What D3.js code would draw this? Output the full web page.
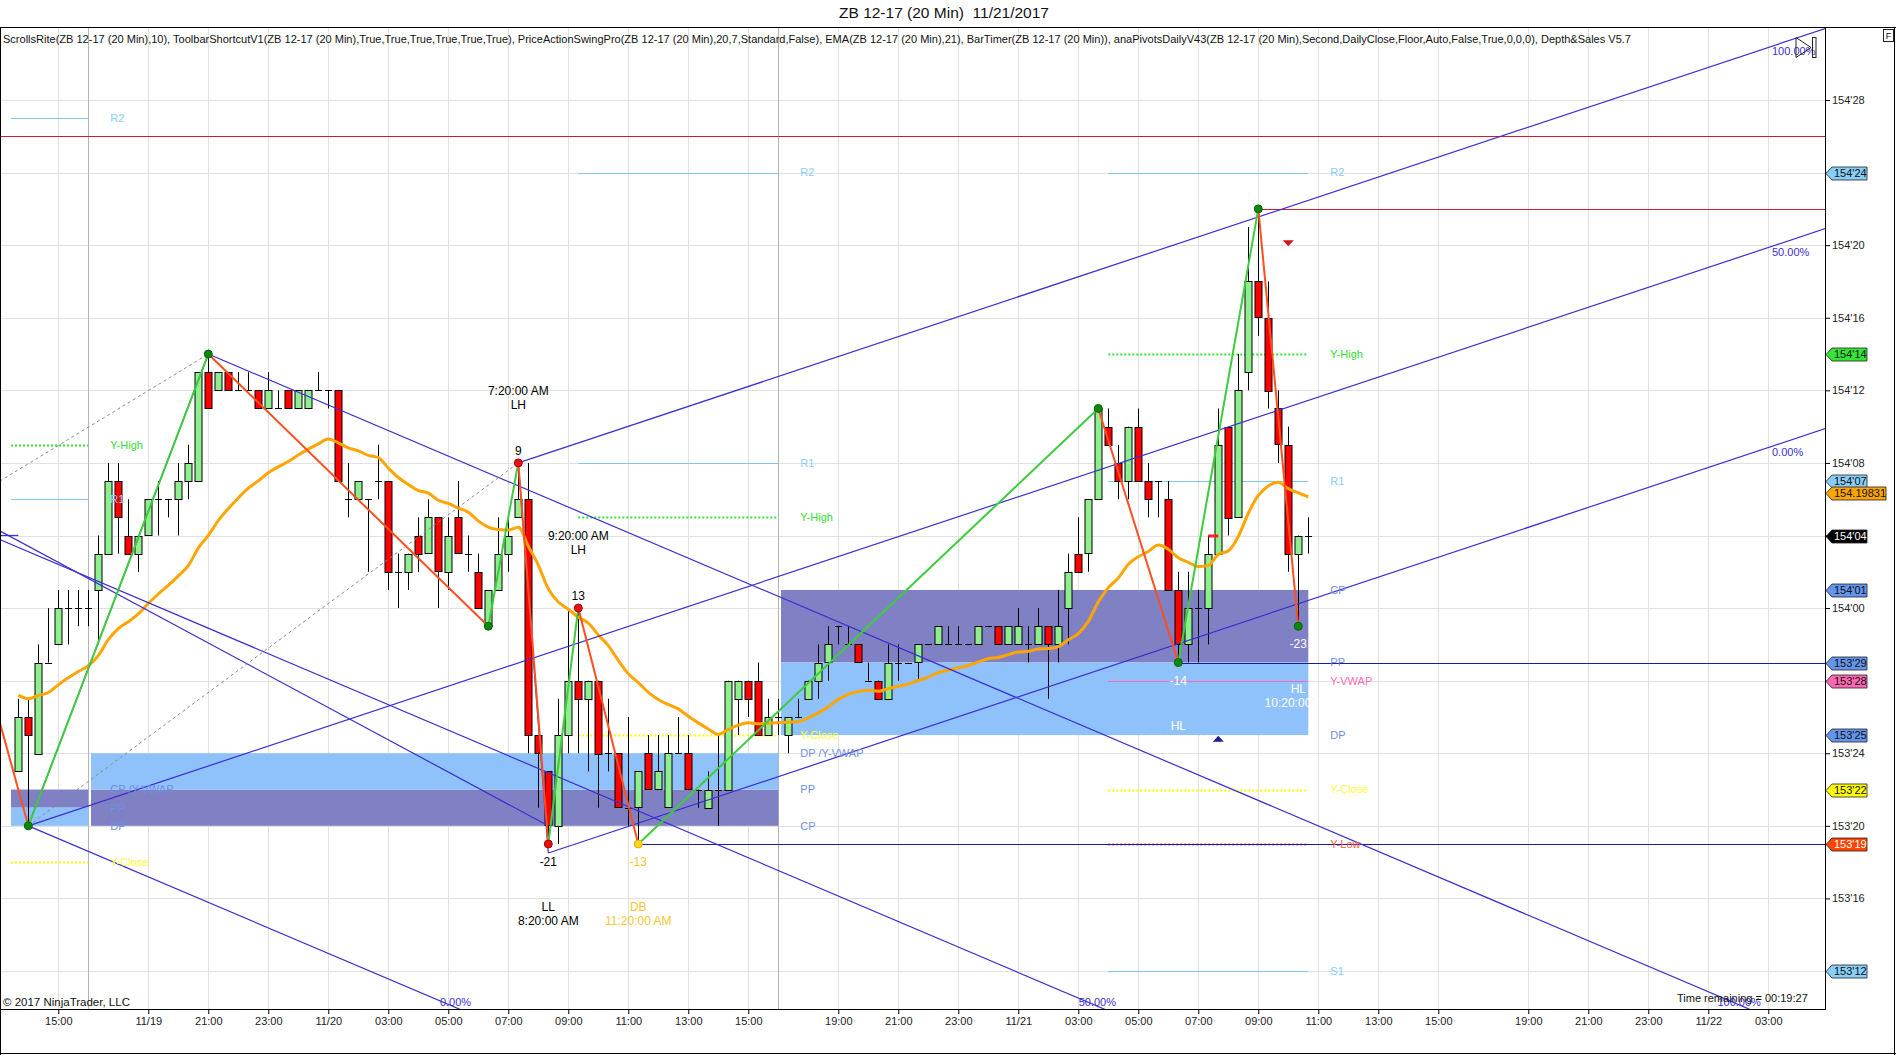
<!DOCTYPE html>
<html>
<head>
<meta charset="utf-8">
<script src="https://cdn.jsdelivr.net/npm/d3@7"></script>
<style>
  body { margin: 0; background: #fff; }
  svg text { font-family: "Liberation Sans", Arial, sans-serif; }
</style>
</head>
<body>
<div id="chart"></div>
<script>
// prices are in 1/32 ticks : 154'04 = 154*32 + 4
var opens = [4919,4922,4920,4925,4926,4928,4928,4928,4929,4931,
  4935,4932,4931,4932,4934,4934,4934,4935,4935,4941,
  4940,4941,4940,4940,4940,4939,4939,4940,4939,4939,
  4940,4940,4940,4934,4934,4934,4935,4935,4930,4930,
  4932,4931,4933,4930,4933,4931,4930,4927,4929,4931,
  4933,4934,4921,4919,4916,4921,4924,4923,4924,4920,
  4920,4917,4917,4920,4918,4917,4920,4920,4918,4917,
  4918,4918,4923,4924,4924,4921,4922,4921,4922,4923,
  4924,4925,4927,4926,4926,4924,4924,4923,4925,4925,
  4925,4926,4926,4926,4926,4926,4926,4927,4927,4926,
  4926,4926,4926,4927,4926,4928,4931,4931,4934,4938,
  4936,4935,4938,4935,4935,4934,4929,4926,4928,4928,
  4931,4938,4933,4941,4946,4944,4939,4937,4931,4932];
var highs = [4923,4923,4926,4928,4929,4929,4929,4929,4932,4936,
  4936,4934,4932,4934,4935,4934,4936,4937,4941,4942,
  4941,4941,4941,4941,4940,4941,4940,4940,4940,4940,
  4941,4940,4940,4936,4935,4934,4937,4935,4931,4931,
  4933,4934,4933,4933,4935,4932,4931,4929,4933,4933,
  4936,4936,4921,4919,4923,4928,4928,4924,4924,4923,
  4920,4922,4919,4921,4921,4921,4922,4921,4918,4919,
  4921,4924,4924,4924,4925,4923,4923,4922,4923,4924,
  4926,4927,4927,4927,4926,4925,4924,4926,4926,4925,
  4926,4926,4927,4927,4927,4926,4927,4927,4927,4927,
  4928,4927,4928,4927,4929,4931,4933,4934,4939,4939,
  4937,4938,4939,4936,4935,4935,4930,4930,4929,4932,
  4939,4938,4942,4949,4950,4946,4940,4938,4932,4933];
var lows = [4919,4916,4920,4925,4926,4926,4927,4927,4926,4931,
  4931,4931,4930,4932,4932,4933,4932,4934,4935,4939,
  4940,4940,4940,4940,4939,4939,4939,4939,4939,4939,
  4940,4939,4935,4933,4934,4930,4934,4929,4928,4929,
  4930,4931,4928,4929,4931,4930,4928,4927,4929,4930,
  4933,4920,4917,4915,4915,4920,4920,4919,4917,4919,
  4917,4916,4915,4918,4918,4917,4920,4918,4917,4917,
  4916,4918,4921,4922,4921,4921,4921,4920,4922,4923,
  4923,4924,4926,4926,4925,4924,4923,4923,4924,4925,
  4924,4926,4926,4926,4926,4926,4926,4927,4926,4926,
  4926,4925,4926,4923,4925,4926,4930,4930,4934,4937,
  4934,4934,4935,4933,4933,4929,4925,4925,4925,4926,
  4931,4932,4933,4940,4943,4939,4936,4930,4927,4931];
var closes = [4922,4921,4925,4925,4928,4928,4928,4928,4931,4935,
  4933,4931,4932,4934,4934,4934,4935,4936,4941,4939,
  4941,4940,4940,4940,4939,4940,4939,4939,4940,4940,
  4940,4940,4935,4934,4935,4934,4935,4930,4930,4931,
  4931,4933,4930,4932,4931,4931,4928,4929,4931,4932,
  4934,4921,4920,4916,4921,4924,4923,4924,4920,4920,
  4917,4917,4919,4918,4919,4920,4920,4918,4918,4918,
  4918,4924,4924,4923,4921,4922,4922,4922,4922,4924,
  4925,4926,4927,4926,4925,4924,4923,4925,4925,4925,
  4926,4926,4927,4926,4926,4926,4927,4927,4926,4927,
  4927,4926,4927,4926,4927,4930,4930,4934,4939,4937,
  4935,4938,4935,4934,4935,4929,4926,4928,4928,4931,
  4937,4933,4940,4946,4944,4940,4937,4931,4932,4932];

var emaPeriod = 21;
var emaSeed = 4923.2;          // EMA value read at the first visible bar
var emaLastText = "154.19831"; // EMA value printed on the price axis

// PriceActionSwingPro swing points
var swingBars   = [-2, 1, 19, 47, 50, 53, 56, 62, 108, 116, 124, 128];
var swingPrices = [4922, 4916, 4942, 4927, 4936, 4915, 4928, 4915, 4939, 4925, 4950, 4927];
var swingDots   = ["", "green", "green", "green", "red", "red", "red", "gold", "green", "green", "green", "green"];
var labelBars   = [50, 56, 53, 62, 116, 128];
var labelTypes  = ["LH", "LH", "LL", "DB", "HL", "HL"];
var labelColors = ["#000", "#000", "#000", "#f7c531", "#fff", "#fff"];

// daily pivots (three sessions)
var sessionFirst = [0, 8, 77];
var sessionLast  = [7, 76, 129];
var leftNames  = ["R2", "Y-High", "R1", "CP /Y-VWAP", "PP", "DP", "Y-Close"];
var leftLevels = [4955, 4937, 4934, 4918, 4917, 4916, 4914];
var midNames   = ["R2", "R1", "Y-High", "Y-Close", "DP /Y-VWAP", "PP", "CP"];
var midLevels  = [4952, 4936, 4933, 4921, 4920, 4918, 4916];
var rightNames  = ["R2", "Y-High", "R1", "CP", "PP", "Y-VWAP", "DP", "Y-Close", "Y-Low", "S1"];
var rightLevels = [4952, 4942, 4935, 4929, 4925, 4924, 4921, 4918, 4915, 4908];

// drawing objects (bar, price)
var downFork = [[-7.5, 4933.1], [1, 4916], [19, 4942]];
var upFork   = [[1, 4916], [50, 4936], [53, 4914.5]];
var trendLines = [[[-2, 4932.3], [53, 4916]], [[-2, 4932], [0, 4932]]];
var rayBars   = [-2, 124, 62, 116];
var rayPrices = [4954, 4950, 4915, 4925];
var rayColors = ["#d8182c", "#d8182c", "#1a1aa8", "#1a1aa8"];
var signalBars   = [127, 120];
var signalPrices = [4948.1, 4920.8];
var signalDirs   = ["down", "up"];

var W = 1896, H = 1055;
var L = 0, R = 1825, T = 27, B = 1009;

var x = d3.scaleLinear().domain([0, 180]).range([18.3, 1818.3]);
var y = d3.scaleLinear().domain([4908, 4956]).range([971.0, 100]);

function fmtPrice(p) {
  var w = Math.floor(p / 32), f = p - w * 32;
  return w + "'" + (f < 10 ? "0" : "") + f;
}

// bar times: 20 min bars, session 17:20 - 16:00, weekend skipped
function buildTimes(n) {
  var out = [], d = new Date(2017, 10, 17, 13, 40);
  for (var i = 0; i < n; i++) {
    out.push(d);
    if (d.getHours() === 16 && d.getMinutes() === 0) {
      d = new Date(d.getFullYear(), d.getMonth(), d.getDate() + (d.getDay() === 5 ? 2 : 0), 17, 20);
    } else {
      d = new Date(d.getTime() + 20 * 60000);
    }
  }
  return out;
}
var times = buildTimes(181);
var tickBars = [], tickLabels = [];
var lastDate = null;
times.forEach(function(t, i) {
  if (t.getMinutes() === 0 && t.getHours() % 2 === 1) {
    var ds = (t.getMonth() + 1) + "/" + t.getDate();
    tickBars.push(i);
    tickLabels.push(lastDate !== null && ds !== lastDate ? ds : d3.timeFormat("%H:%M")(t));
    lastDate = ds;
  }
});

var svg = d3.select("#chart").append("svg").attr("width", W).attr("height", H);
svg.append("rect").attr("width", W).attr("height", H).attr("fill", "#fff");
svg.append("defs").append("clipPath").attr("id", "plotclip")
  .append("rect").attr("x", L).attr("y", T).attr("width", R - L).attr("height", B - T);

var plot = svg.append("g").attr("clip-path", "url(#plotclip)");

// grid
var priceTicks = d3.range(4908, 4957, 4);
plot.selectAll(".hgrid").data(priceTicks).join("line")
  .attr("x1", L).attr("x2", R).attr("y1", function(d) { return Math.round(y(d)) + 0.5; })
  .attr("y2", function(d) { return Math.round(y(d)) + 0.5; })
  .attr("stroke", "#e1e1e1");
plot.selectAll(".vgrid").data(tickBars).join("line")
  .attr("x1", function(d) { return Math.round(x(d)) + 0.5; }).attr("x2", function(d) { return Math.round(x(d)) + 0.5; })
  .attr("y1", T).attr("y2", B).attr("stroke", "#e1e1e1");
var breakBars = d3.range(0, closes.length).filter(function(i) {
  return times[i].getHours() === 16 && times[i].getMinutes() === 0;
});
plot.selectAll(".sess").data(breakBars).join("line")
  .attr("x1", function(d) { return Math.round(x(d)) + 0.5; }).attr("x2", function(d) { return Math.round(x(d)) + 0.5; })
  .attr("y1", T).attr("y2", B).attr("stroke", "#b4b4b4");

// pivots
function kindOf(name) {
  if (name[0] === "R" || name[0] === "S") return "RS";
  if (name.indexOf("CP") === 0 || name.indexOf("PP") === 0 || name.indexOf("DP") === 0) return "pivot";
  return name;
}
var lineStyle = {
  "RS": {c: "#7ec8e8", w: 1, dash: null},
  "Y-High": {c: "#2ee62e", w: 2, dash: "2,2"},
  "Y-Close": {c: "#ffff00", w: 2, dash: "2,2"},
  "Y-Low": {c: "#ff5a3c", w: 2, dash: "2,2"},
  "Y-VWAP": {c: "#ff69b4", w: 1, dash: null}
};
var labelColor = {"RS": "#87cefa", "Y-High": "#33dd33", "Y-Close": "#ffff33", "Y-Low": "#ff5a3c",
  "Y-VWAP": "#ff69b4", "pivot": "#6f8fdf"};

var pivotSets = [[leftNames, leftLevels], [midNames, midLevels], [rightNames, rightLevels]];
var boxLayer = plot.append("g"), pivLayer = plot.append("g");
pivotSets.forEach(function(set, k) {
  var names = set[0], lv = set[1];
  var x0 = x(sessionFirst[k]) - 7.3, x1 = x(sessionLast[k]);
  function level(pfx) { for (var i = 0; i < names.length; i++) if (names[i].indexOf(pfx) === 0) return lv[i]; }
  var cp = level("CP"), pp = level("PP"), dp = level("DP");
  boxLayer.append("rect").attr("x", x0).attr("width", x1 - x0)
    .attr("y", y(Math.max(cp, pp))).attr("height", Math.abs(y(cp) - y(pp))).attr("fill", "#8080c4");
  boxLayer.append("rect").attr("x", x0).attr("width", x1 - x0)
    .attr("y", y(Math.max(dp, pp))).attr("height", Math.abs(y(dp) - y(pp))).attr("fill", "#8fc2fa");
  var lx0 = Math.max(x0, x(sessionLast[k] - 20));
  names.forEach(function(n, i) {
    var s = lineStyle[kindOf(n)];
    if (!s) return;
    var yy = Math.round(y(lv[i])) + 0.5;
    pivLayer.append("line").attr("x1", lx0).attr("x2", x1).attr("y1", yy).attr("y2", yy)
      .attr("stroke", s.c).attr("stroke-width", s.w).attr("stroke-dasharray", s.dash);
  });
});

// candles
var bars = d3.range(closes.length);
var cg = plot.append("g");
cg.selectAll(".wick").data(bars).join("line")
  .attr("x1", function(i) { return Math.round(x(i)) + 0.5; }).attr("x2", function(i) { return Math.round(x(i)) + 0.5; })
  .attr("y1", function(i) { return y(highs[i]); }).attr("y2", function(i) { return y(lows[i]); })
  .attr("stroke", "#000");
cg.selectAll(".body").data(bars.filter(function(i) { return opens[i] !== closes[i]; })).join("rect")
  .attr("x", function(i) { return Math.round(x(i)) - 3; }).attr("width", 7)
  .attr("y", function(i) { return Math.round(y(Math.max(opens[i], closes[i]))) + 0.5; })
  .attr("height", function(i) { return Math.round(Math.abs(y(opens[i]) - y(closes[i]))); })
  .attr("fill", function(i) { return closes[i] > opens[i] ? "#90ee90" : "#ff0000"; })
  .attr("stroke", "#000");
cg.selectAll(".doji").data(bars.filter(function(i) { return opens[i] === closes[i]; })).join("line")
  .attr("x1", function(i) { return Math.round(x(i)) - 3; }).attr("x2", function(i) { return Math.round(x(i)) + 4; })
  .attr("y1", function(i) { return Math.round(y(opens[i])) + 0.5; }).attr("y2", function(i) { return Math.round(y(opens[i])) + 0.5; })
  .attr("stroke", "#000");

// EMA
var ema = [];
closes.forEach(function(c, i) {
  ema.push(i === 0 ? emaSeed : ema[i - 1] + (c - ema[i - 1]) * 2 / (emaPeriod + 1));
});
plot.append("path").datum(ema)
  .attr("d", d3.line().x(function(d, i) { return x(i); }).y(function(d) { return y(d); }).curve(d3.curveMonotoneX))
  .attr("fill", "none").attr("stroke", "#ffa500").attr("stroke-width", 3);

// rays and drawing objects
var dg = plot.append("g");
rayBars.forEach(function(b, i) {
  var yy = Math.round(y(rayPrices[i])) + 0.5;
  dg.append("line").attr("x1", x(b)).attr("x2", R).attr("y1", yy).attr("y2", yy)
    .attr("stroke", rayColors[i]).attr("stroke-width", 1.1);
});
var forkColor = "#3a2fd0";
trendLines.forEach(function(tl) {
  dg.append("line").attr("x1", x(tl[0][0])).attr("y1", y(tl[0][1]))
    .attr("x2", x(tl[1][0])).attr("y2", y(tl[1][1])).attr("stroke", forkColor).attr("stroke-width", 1.2);
});

var forkLabels = [];
function drawFork(f) {
  var a = f[0], p2 = f[1], p3 = f[2];
  var mb = (p2[0] + p3[0]) / 2, mp = (p2[1] + p3[1]) / 2;
  var m = (mp - a[1]) / (mb - a[0]);
  var hi = p2[1] > p3[1] ? p2 : p3, lo = p2[1] > p3[1] ? p3 : p2;
  var rays = [[a, "50.00%"], [hi, "100.00%"], [lo, "0.00%"]];
  rays.forEach(function(r) {
    var s = r[0], endB = 400;
    dg.append("line").attr("x1", x(s[0])).attr("y1", y(s[1]))
      .attr("x2", x(endB)).attr("y2", y(s[1] + m * (endB - s[0])))
      .attr("stroke", forkColor).attr("stroke-width", 1.2);
    var bR = x.invert(R), pR = s[1] + m * (bR - s[0]);
    if (y(pR) < B) {
      forkLabels.push({x: 1772, y: y(pR) + 23, t: r[1], a: "start"});
    } else {
      var pB = y.invert(B), bB = s[0] + (pB - s[1]) / m;
      forkLabels.push({x: x(bB) + 12, y: 1002, t: r[1], a: "end"});
    }
  });
  dg.append("line").attr("x1", x(p2[0])).attr("y1", y(p2[1])).attr("x2", x(p3[0])).attr("y2", y(p3[1]))
    .attr("stroke", forkColor).attr("stroke-width", 1.2);
  dg.append("line").attr("x1", x(a[0])).attr("y1", y(a[1])).attr("x2", x(hi[0])).attr("y2", y(hi[1]))
    .attr("stroke", "#8c8c8c").attr("stroke-dasharray", "3,3");
}
drawFork(downFork);
drawFork(upFork);

// zigzag
var zg = plot.append("g");
for (var k = 1; k < swingBars.length; k++) {
  var up = swingPrices[k] > swingPrices[k - 1];
  zg.append("line").attr("x1", x(swingBars[k - 1])).attr("y1", y(swingPrices[k - 1]))
    .attr("x2", x(swingBars[k])).attr("y2", y(swingPrices[k]))
    .attr("stroke", up ? "#3ccc3c" : "#ff4f1e").attr("stroke-width", 2);
}
var dotFill = {green: "#0a8a0a", red: "#e01515", gold: "#ffd21e"};
var dotStroke = {green: "#066406", red: "#b00000", gold: "#e0b000"};
swingBars.forEach(function(b, i) {
  if (!swingDots[i]) return;
  zg.append("circle").attr("cx", x(b)).attr("cy", y(swingPrices[i])).attr("r", 4)
    .attr("fill", dotFill[swingDots[i]]).attr("stroke", dotStroke[swingDots[i]]);
});

// signal markers
var sg = plot.append("g");
signalBars.forEach(function(b, i) {
  var cx = x(b), cy = y(signalPrices[i]);
  var pts = signalDirs[i] === "down"
    ? [[cx - 5.5, cy - 3], [cx + 5.5, cy - 3], [cx, cy + 3]]
    : [[cx - 5.5, cy + 3], [cx + 5.5, cy + 3], [cx, cy - 3]];
  sg.append("polygon").attr("points", pts.join(" "))
    .attr("fill", signalDirs[i] === "down" ? "#d2141e" : "#1c1c8c");
});
sg.append("rect").attr("x", x(119)).attr("width", x(120) - x(119)).attr("y", y(4932) - 1).attr("height", 3)
  .attr("fill", "#ff2020");

// text layer
var tg = plot.append("g");
pivotSets.forEach(function(set, k) {
  set[0].forEach(function(n, i) {
    tg.append("text").attr("x", x(sessionLast[k]) + 22).attr("y", y(set[1][i])).attr("dy", "0.35em")
      .attr("font-size", 11).attr("fill", labelColor[kindOf(n)]).text(n);
  });
});
forkLabels.forEach(function(l) {
  tg.append("text").attr("x", l.x).attr("y", l.y).attr("dy", "0.35em").attr("text-anchor", l.a)
    .attr("font-size", 11).attr("fill", forkColor).text(l.t);
});
var timeFmt = d3.timeFormat("%-I:%M:%S %p");
labelBars.forEach(function(b, j) {
  var k = swingBars.indexOf(b);
  var p = swingPrices[k], diff = p - swingPrices[k - 1];
  var cx = x(b), cy = y(p), col = labelColors[j];
  var high = diff > 0;
  var rows = high
    ? [[cy - 12, String(diff)], [cy - 58, labelTypes[j]], [cy - 72, timeFmt(times[b])]]
    : [[cy + 18, String(diff)], [cy + 63, labelTypes[j]], [cy + 77, timeFmt(times[b])]];
  rows.forEach(function(r) {
    tg.append("text").attr("x", cx).attr("y", r[0]).attr("dy", "0.35em").attr("text-anchor", "middle")
      .attr("font-size", 12).attr("fill", col).text(r[1]);
  });
});

// axes
var yAxis = d3.axisRight(y).tickValues(priceTicks).tickFormat(fmtPrice).tickSize(5).tickPadding(2);
svg.append("g").attr("transform", "translate(" + R + ",0)").call(yAxis)
  .call(function(g) { g.select(".domain").remove(); })
  .call(function(g) { g.selectAll("line").attr("stroke", "#000"); })
  .call(function(g) { g.selectAll("text").attr("font-size", 11).attr("fill", "#222")
    .attr("font-family", "Liberation Sans, Arial, sans-serif"); });

var xAxis = d3.axisBottom(x).tickValues(tickBars)
  .tickFormat(function(d, i) { return tickLabels[i]; }).tickSize(5).tickPadding(3);
svg.append("g").attr("transform", "translate(0," + B + ")").call(xAxis)
  .call(function(g) { g.select(".domain").remove(); })
  .call(function(g) { g.selectAll("line").attr("stroke", "#000"); })
  .call(function(g) { g.selectAll("text").attr("font-size", 11).attr("fill", "#222")
    .attr("font-family", "Liberation Sans, Arial, sans-serif"); });

// price markers
var mg = svg.append("g");
function marker(p, fill, txt, txtColor, w) {
  var yy = Math.round(y(p)) + 0.5;
  mg.append("path")
    .attr("d", "M1826," + yy + " L1832," + (yy - 6.5) + " L" + (1832 + w) + "," + (yy - 6.5) +
      " L" + (1832 + w) + "," + (yy + 6.5) + " L1832," + (yy + 6.5) + " Z")
    .attr("fill", fill).attr("stroke", "#222").attr("stroke-width", 0.8);
  mg.append("text").attr("x", 1834).attr("y", yy).attr("dy", "0.36em").attr("font-size", 11)
    .attr("fill", txtColor).text(txt);
}
var markerFill = {"RS": "#87cefa", "Y-High": "#33e633", "Y-Close": "#ffff00", "Y-Low": "#ff4500",
  "Y-VWAP": "#ff69b4", "pivot": "#6495ed"};
rightNames.forEach(function(n, i) {
  var kd = kindOf(n);
  marker(rightLevels[i], markerFill[kd], fmtPrice(rightLevels[i]), kd === "Y-Low" ? "#fff" : "#111", 35);
});
marker(+emaLastText * 32, "#ffa500", emaLastText, "#111", 54);
marker(closes[closes.length - 1], "#000", fmtPrice(closes[closes.length - 1]), "#fff", 35);

// frame
svg.append("line").attr("x1", 0).attr("x2", W).attr("y1", T + 0.5).attr("y2", T + 0.5).attr("stroke", "#000");
svg.append("line").attr("x1", 0.5).attr("x2", 0.5).attr("y1", T).attr("y2", H).attr("stroke", "#000");
svg.append("line").attr("x1", W - 1.5).attr("x2", W - 1.5).attr("y1", T).attr("y2", H).attr("stroke", "#000");
svg.append("line").attr("x1", 0).attr("x2", W).attr("y1", H - 1.5).attr("y2", H - 1.5).attr("stroke", "#000");
svg.append("line").attr("x1", R + 0.5).attr("x2", R + 0.5).attr("y1", T).attr("y2", B).attr("stroke", "#000");
svg.append("line").attr("x1", 0).attr("x2", R + 1).attr("y1", B + 0.5).attr("y2", B + 0.5).attr("stroke", "#000");

// title and texts
svg.append("text").attr("x", 944).attr("y", 13).attr("dy", "0.35em").attr("text-anchor", "middle")
  .attr("font-size", 15.5).attr("fill", "#111").style("white-space", "pre")
  .text("ZB 12-17 (20 Min)  11/21/2017");
svg.append("text").attr("x", 3).attr("y", 39).attr("dy", "0.35em").attr("font-size", 11).attr("fill", "#111")
  .attr("textLength", 1628).attr("lengthAdjust", "spacingAndGlyphs")
  .text("ScrollsRite(ZB 12-17 (20 Min),10), ToolbarShortcutV1(ZB 12-17 (20 Min),True,True,True,True,True,True), PriceActionSwingPro(ZB 12-17 (20 Min),20,7,Standard,False), EMA(ZB 12-17 (20 Min),21), BarTimer(ZB 12-17 (20 Min)), anaPivotsDailyV43(ZB 12-17 (20 Min),Second,DailyClose,Floor,Auto,False,True,0,0,0), Depth&Sales V5.7");
svg.append("text").attr("x", 3).attr("y", 1002).attr("dy", "0.35em").attr("font-size", 11.5).attr("fill", "#111")
  .text("\u00a9 2017 NinjaTrader, LLC");
svg.append("text").attr("x", 1677).attr("y", 998).attr("dy", "0.35em").attr("font-size", 11).attr("fill", "#111")
  .text("Time remaining = 00:19:27");

// top-right widgets
svg.append("polygon").attr("points", "1796,37.5 1811,47.5 1796,57.5").attr("fill", "none").attr("stroke", "#222");
svg.append("rect").attr("x", 1812.5).attr("y", 37.5).attr("width", 3.5).attr("height", 20).attr("fill", "none").attr("stroke", "#222");
svg.append("rect").attr("x", 1883.5).attr("y", 29.5).attr("width", 10).attr("height", 12).attr("fill", "#fff").attr("stroke", "#222");
svg.append("text").attr("x", 1888.5).attr("y", 36).attr("dy", "0.35em").attr("text-anchor", "middle")
  .attr("font-size", 9).attr("fill", "#111").text("F");
</script>
</body>
</html>
